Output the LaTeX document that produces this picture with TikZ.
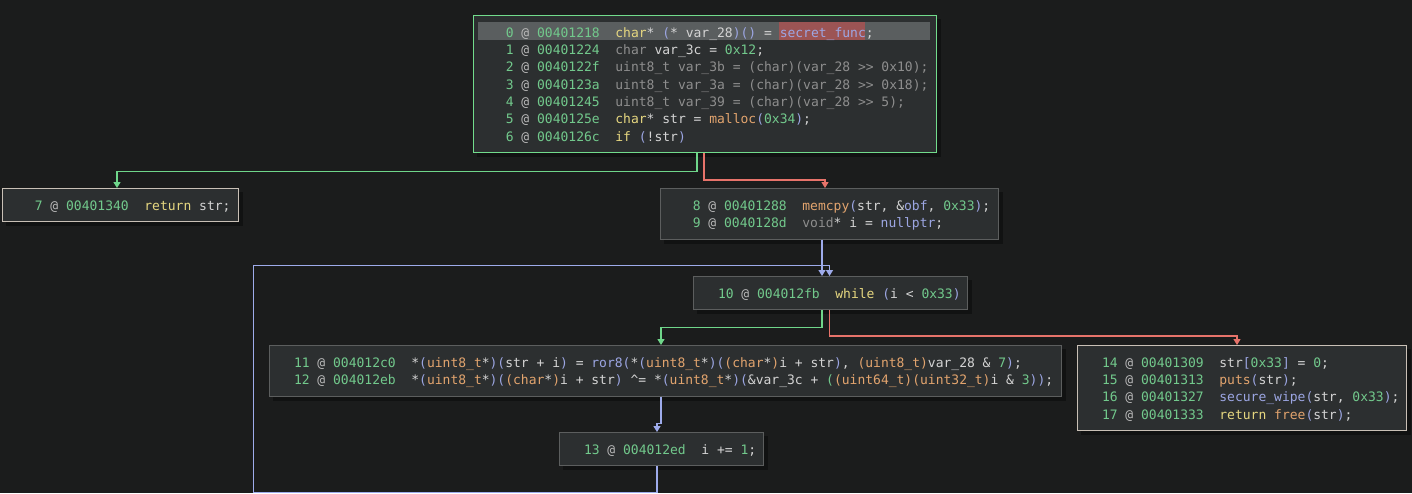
\documentclass[tikz,border=0pt]{standalone}
\usepackage{fontspec}
\setmonofont{DejaVu Sans Mono}
\usepackage{tikz}
\usetikzlibrary{arrows.meta,calc,backgrounds}
\definecolor{bgc}{HTML}{1B1C1C}
\definecolor{blkfill}{HTML}{2C2F30}
\definecolor{blkline}{HTML}{5C5E5E}
\definecolor{entline}{HTML}{72DC8C}
\definecolor{retline}{HTML}{C9C0B6}
\definecolor{shadowc}{HTML}{111212}
\definecolor{hlrow}{HTML}{5A5E5F}
\definecolor{hlsym}{HTML}{9C5454}
\definecolor{egreen}{HTML}{6FD68A}
\definecolor{ered}{HTML}{E7736A}
\definecolor{eblue}{HTML}{9EABEB}
\definecolor{caddr}{HTML}{72C98C}
\definecolor{cat}{HTML}{B8B8B8}
\definecolor{ctext}{HTML}{D4D4D4}
\definecolor{ckw}{HTML}{E6D780}
\definecolor{cfn}{HTML}{E2A46E}
\definecolor{clv}{HTML}{9CA6E3}
\definecolor{cnum}{HTML}{72C98C}
\definecolor{cdim}{HTML}{8E8E8E}
\newcommand{\tkw}[1]{\textcolor{ckw}{#1}}
\newcommand{\tfn}[1]{\textcolor{cfn}{#1}}
\newcommand{\tlv}[1]{\textcolor{clv}{#1}}
\newcommand{\tnum}[1]{\textcolor{cnum}{#1}}
\newcommand{\tdim}[1]{\textcolor{cdim}{#1}}
\newcommand{\pad}{\hphantom{0}}
\newcommand{\cstrut}{\rule[-3.8pt]{0pt}{17.35pt}}
\newcommand{\cln}[3]{\mbox{\spaceskip=0pt\xspaceskip=0pt\cstrut\textcolor{caddr}{#1}\textcolor{cat}{~@~}\textcolor{caddr}{#2}~~#3}}
\tikzset{
  >={Triangle[width=7pt,length=6pt]},
  blk/.style={draw=blkline,line width=1pt,anchor=north west,align=left,
    inner xsep=24.5pt,inner ysep=8pt,text=ctext,
    font=\ttfamily\fontsize{13}{17.35}\selectfont},
  blkent/.style={blk,draw=entline},
  blkret/.style={blk,draw=retline},
  flow/.style={->,line width=1.3pt},
  flowt/.style={flow,draw=egreen},
  flowf/.style={flow,draw=ered},
  flowu/.style={flow,draw=eblue},
}

\begin{document}
\begin{tikzpicture}[x=1pt,y=-1pt]
  \useasboundingbox (0,0) rectangle (1412,493);
  \node[blkent,text width=414pt] (b0) at (473,15) {%
    \cln{\pad0}{00401218}{\tkw{char}* \tlv{(}* var\_28\tlv{)()} = \tlv{secret\_func};}\\
    \cln{\pad1}{00401224}{\tdim{char} var\_3c = \tnum{0x12};}\\
    \cln{\pad2}{0040122f}{\tdim{uint8\_t var\_3b = (char)(var\_28 >> 0x10);}}\\
    \cln{\pad3}{0040123a}{\tdim{uint8\_t var\_3a = (char)(var\_28 >> 0x18);}}\\
    \cln{\pad4}{00401245}{\tdim{uint8\_t var\_39 = (char)(var\_28 >> 5);}}\\
    \cln{\pad5}{0040125e}{\tkw{char}* str = \tfn{malloc}\tlv{(}\tnum{0x34}\tlv{)};}\\
    \cln{\pad6}{0040126c}{\tkw{if} \tlv{(}!str\tlv{)}}};
  \node[blkret,text width=186.5pt] (b7) at (2,188) {%
    \cln{\pad7}{00401340}{\tkw{return} str;}};
  \node[blk,text width=289pt] (b8) at (660,188) {%
    \cln{\pad8}{00401288}{\tfn{memcpy}\tlv{(}str, \&\tlv{obf}, \tnum{0x33}\tlv{)};}\\
    \cln{\pad9}{0040128d}{\tdim{void}* i = \tlv{nullptr};}};
  \node[blk,text width=225pt] (b10) at (693,276) {%
    \cln{10}{004012fb}{\tkw{while} \tlv{(}i < \tnum{0x33}\tlv{)}}};
  \node[blk,text width=742.5pt] (b11) at (269,345) {%
    \cln{11}{004012c0}{*\tlv{(}\tfn{uint8\_t}*\tlv{)(}str + i\tlv{)} = \tlv{ror8(}*\tlv{(}\tfn{uint8\_t}*\tlv{)(}\tfn{(char}*\tfn{)}i + str\tlv{)}, \tfn{(uint8\_t)}var\_28 \& \tnum{7}\tlv{)};}\\
    \cln{12}{004012eb}{*\tlv{(}\tfn{uint8\_t}*\tlv{)(}\tfn{(char}*\tfn{)}i + str\tlv{)} \textasciicircum= *\tlv{(}\tfn{uint8\_t}*\tlv{)(}\&var\_3c + \tnum{(}\tfn{(uint64\_t)(uint32\_t)}i \& \tnum{3}\tlv{))};}};
  \node[blkret,text width=279.5pt] (b14) at (1077,345) {%
    \cln{14}{00401309}{str\tlv{[}\tnum{0x33}\tlv{]} = \tnum{0};}\\
    \cln{15}{00401313}{\tfn{puts}\tlv{(}str\tlv{)};}\\
    \cln{16}{00401327}{\tlv{secure\_wipe(}str, \tnum{0x33}\tlv{)};}\\
    \cln{17}{00401333}{\tkw{return} \tfn{free}\tlv{(}str\tlv{)};}};
  \node[blk,text width=155pt] (b13) at (559,432) {%
    \cln{13}{004012ed}{i += \tnum{1};}};
  \begin{scope}[on background layer]
    \fill[bgc] (0,0) rectangle (1412,493);
    \foreach \b in {b0,b7,b8,b10,b11,b13,b14}
      \fill[shadowc] ($(\b.north west)+(4,4)$) rectangle ($(\b.south east)+(4,4)$);
    \foreach \b in {b0,b7,b8,b10,b11,b13,b14}
      \fill[blkfill] (\b.north west) rectangle (\b.south east);
    \fill[hlrow] ($(b0.north west)+(5,7)$) rectangle ($(b0.north west)+(457,24.7)$);
    \fill[hlsym] ($(b0.north west)+(306,7)$) rectangle ($(b0.north west)+(392,24.7)$);
  \end{scope}
  \coordinate (p8) at ($(b8.south west)+(162,0)$);
  \coordinate (p13) at ($(b13.south west)+(98,0)$);
  \coordinate (loopc) at (253.5,265.7);
  \draw[flowt] ($(b0.south west)+(224,0)$) -- ++(0,18.3) -| ($(b7.north west)+(115,0)$);
  \draw[flowf] ($(b0.south west)+(231,0)$) -- ++(0,26.6) -| ($(b8.north west)+(165,0)$);
  \draw[flowu] (p8) -- (p8 |- b10.north);
  \draw[flowu] (p13) -- ++(0,26.3) -| (loopc) -| ($(b10.north west)+(136.5,0)$);
  \draw[flowt] ($(b10.south west)+(129,0)$) -- ++(0,17.4) -| ($(b11.north west)+(392,0)$);
  \draw[flowf] ($(b10.south west)+(136.5,0)$) -- ++(0,25.7) -| ($(b14.north west)+(160,0)$);
  \draw[flowu] ($(b11.south west)+(392,0)$) -- ++(0,26.8) -| ($(b13.north west)+(98,0)$);
\end{tikzpicture}
\end{document}
